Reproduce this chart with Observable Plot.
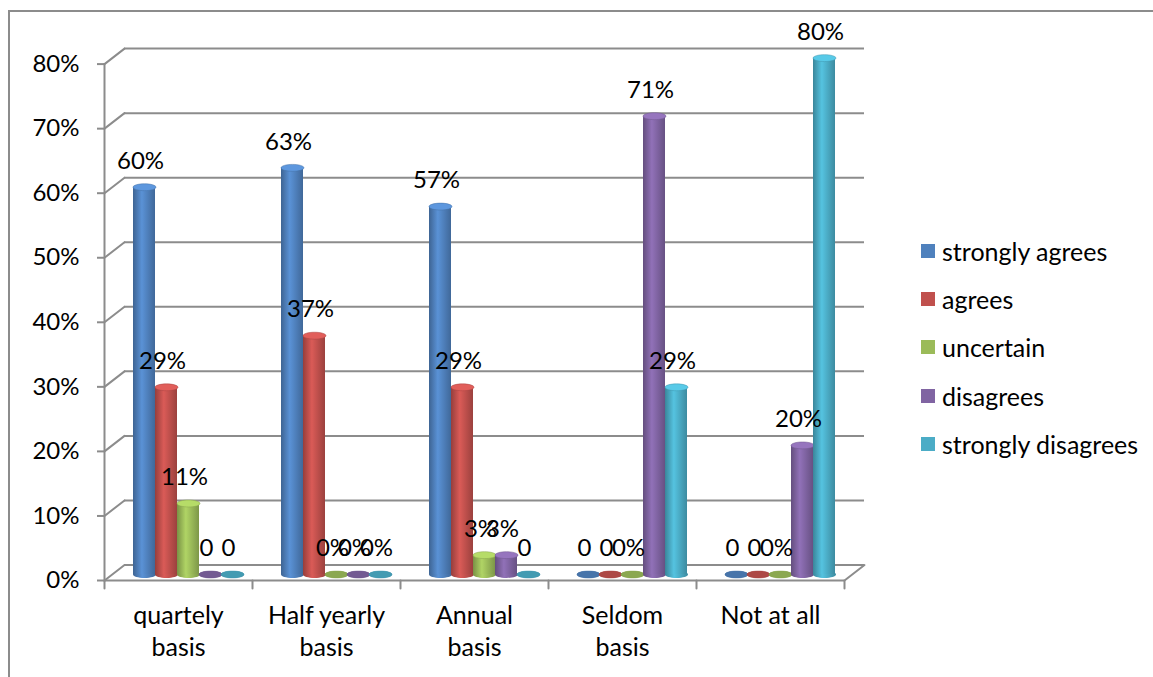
<!DOCTYPE html>
<html><head><meta charset="utf-8">
<script src="https://cdn.jsdelivr.net/npm/d3@7"></script>
<script src="https://cdn.jsdelivr.net/npm/@observablehq/plot@0.6"></script>
<style>
html,body{margin:0;padding:0;background:#fff;}
#wrap{position:relative;width:1153px;height:677px;overflow:hidden;font-family:Lato,sans-serif;}
#border{position:absolute;left:8px;top:10px;width:1300px;height:800px;border-left:2px solid #8c8c8c;border-top:2px solid #8c8c8c;}
#chart{position:absolute;left:0;top:0;}
#legend{position:absolute;left:921px;top:227px;}
.item{height:48.2px;display:flex;align-items:center;font-size:25px;color:#000;white-space:nowrap;}
.sw{width:14px;height:14px;margin-right:7px;flex:none;}
</style></head><body>
<div id="wrap"><div id="border"></div><div id="chart"></div><div id="legend"></div></div>
<script>
const categories = ["quartely basis", "Half yearly basis", "Annual basis", "Seldom basis", "Not at all"];
const categoryTickLabels = ["quartely\nbasis", "Half yearly\nbasis", "Annual\nbasis", "Seldom\nbasis", "Not at all"];
const series = ["strongly agrees", "agrees", "uncertain", "disagrees", "strongly disagrees"];
const colors = ["#4F81BD", "#C0504D", "#9BBB59", "#8064A2", "#4BACC6"];

const stronglyAgrees = [0.60, 0.63, 0.57, 0, 0];
const agrees = [0.29, 0.37, 0.29, 0, 0];
const uncertain = [0.11, 0, 0.03, 0, 0];
const disagrees = [0, 0, 0.03, 0.71, 0.20];
const stronglyDisagrees = [0, 0, 0, 0.29, 0.80];

const stronglyAgreesLabels = ["60%", "63%", "57%", "0", "0"];
const agreesLabels = ["29%", "37%", "29%", "0", "0"];
const uncertainLabels = ["11%", "0%", "3%", "0%", "0%"];
const disagreesLabels = ["0", "0%", "3%", "71%", "20%"];
const stronglyDisagreesLabels = ["0", "0%", "0", "29%", "80%"];

const yTicks = [0, 0.1, 0.2, 0.3, 0.4, 0.5, 0.6, 0.7, 0.8];

const seriesValues = [stronglyAgrees, agrees, uncertain, disagrees, stronglyDisagrees];
const seriesLabels = [stronglyAgreesLabels, agreesLabels, uncertainLabels, disagreesLabels, stronglyDisagreesLabels];

const rows = series.flatMap((s, i) => categories.map((c, j) => ({
  category: c, series: s, value: seriesValues[i][j], label: seriesLabels[i][j], idx: i
})));

const grid = "#8c8c8c";
const depthX = 20, depthY = 15.5;
const shiftX = depthX / 2, shiftY = -6;
const diagAngle = Math.atan2(depthX, depthY) * 180 / Math.PI;
const diagLen = Math.hypot(depthX, depthY);

const ellipse = {
  draw(ctx, size) {
    const rx = Math.sqrt(size / Math.PI), ry = rx * 0.3, k = 0.5523;
    ctx.moveTo(-rx, 0);
    ctx.bezierCurveTo(-rx, -ry * k, -rx * k, -ry, 0, -ry);
    ctx.bezierCurveTo(rx * k, -ry, rx, -ry * k, rx, 0);
    ctx.bezierCurveTo(rx, ry * k, rx * k, ry, 0, ry);
    ctx.bezierCurveTo(-rx * k, ry, -rx, ry * k, -rx, 0);
    ctx.closePath();
  }
};
const segment = { draw(ctx, l) { ctx.moveTo(0, 0); ctx.lineTo(0, -l); } };

const cylMarks = series.flatMap((s, i) => {
  const data = rows.filter(d => d.idx === i);
  const base = {fx: "category", x: "series", dx: shiftX, dy: shiftY};
  const c = d3.color(colors[i]);
  return [
    Plot.dot(data, {...base, y: () => 0, r: 11.5, symbol: ellipse, fill: `url(#cyl${i})`}),
    Plot.barY(data, {...base, y: "value", fill: `url(#cyl${i})`}),
    Plot.dot(data, {...base, y: "value", r: 11.5, symbol: ellipse,
      fill: d => d.value > 0 ? c.brighter(0.45).formatHex() : c.darker(0.3).formatHex(),
      stroke: c.darker(0.4).formatHex(), strokeWidth: 0.5})
  ];
});

const last = categories[categories.length - 1];

const plot = Plot.plot({
  width: 1153,
  height: 677,
  marginTop: 63.6,
  marginBottom: 97,
  marginLeft: 104,
  marginRight: 309,
  style: {fontFamily: "Lato, sans-serif", fontSize: "24px", color: "#000", background: "transparent"},
  fx: {domain: categories, padding: 0, axis: null},
  x: {domain: series, paddingInner: 0, paddingOuter: 0.72, axis: null},
  y: {domain: [0, 0.8], axis: null},
  color: {type: "identity"},
  marks: [
    Plot.ruleY(yTicks, {dx: depthX, dy: -depthY, stroke: grid, strokeWidth: 2}),
    Plot.ruleY([0], {stroke: grid, strokeWidth: 2}),
    Plot.frame({anchor: "left", fx: categories[0], stroke: grid, strokeWidth: 2}),
    Plot.vector(yTicks.map(v => ({fx: categories[0], y: v})), {fx: "fx", y: "y", frameAnchor: "left",
      rotate: diagAngle, length: diagLen, anchor: "start", shape: segment, stroke: grid, strokeWidth: 2}),
    Plot.vector([{fx: last, y: 0}], {fx: "fx", y: "y", frameAnchor: "right",
      rotate: diagAngle, length: diagLen, anchor: "start", shape: segment, stroke: grid, strokeWidth: 2}),
    Plot.vector(categories.map(c => ({fx: c, y: 0})), {fx: "fx", y: "y", frameAnchor: "left",
      rotate: 180, length: 8, anchor: "start", shape: segment, stroke: grid, strokeWidth: 2}),
    Plot.vector([{fx: last, y: 0}], {fx: "fx", y: "y", frameAnchor: "right",
      rotate: 180, length: 8, anchor: "start", shape: segment, stroke: grid, strokeWidth: 2}),
    Plot.axisY({ticks: yTicks, tickFormat: d3.format(".0%"), tickSize: 7, tickPadding: 18,
      fontSize: 24, label: null, stroke: grid, strokeWidth: 2, fill: "#000"}),
    Plot.axisFx({anchor: "bottom", tickSize: 0, tickPadding: 21, fontSize: 25, label: null,
      lineHeight: 1.28, fill: "#000",
      tickFormat: c => categoryTickLabels[categories.indexOf(c)]}),
    ...cylMarks,
    Plot.text(rows, {fx: "category", x: "series", y: "value", text: "label",
      dx: shiftX - 4, dy: -32, fontSize: 24, fill: "#000"})
  ]
});

// cylinder shading gradients
const ns = "http://www.w3.org/2000/svg";
const defs = document.createElementNS(ns, "defs");
colors.forEach((col, i) => {
  const g = document.createElementNS(ns, "linearGradient");
  g.setAttribute("id", `cyl${i}`);
  g.setAttribute("x1", "0"); g.setAttribute("x2", "1");
  g.setAttribute("y1", "0"); g.setAttribute("y2", "0");
  const c = d3.color(col);
  [[0, c.darker(0.7)], [0.4, c.brighter(0.35)], [1, c.darker(0.6)]].forEach(([o, sc]) => {
    const s = document.createElementNS(ns, "stop");
    s.setAttribute("offset", o);
    s.setAttribute("stop-color", sc.formatHex());
    g.appendChild(s);
  });
  defs.appendChild(g);
});
plot.insertBefore(defs, plot.firstChild);
document.getElementById("chart").appendChild(plot);

// legend
const legend = document.getElementById("legend");
series.forEach((s, i) => {
  const item = document.createElement("div");
  item.className = "item";
  const sw = document.createElement("span");
  sw.className = "sw";
  sw.style.background = colors[i];
  const t = document.createElement("span");
  t.textContent = s;
  item.appendChild(sw); item.appendChild(t);
  legend.appendChild(item);
});
</script>
</body></html>
